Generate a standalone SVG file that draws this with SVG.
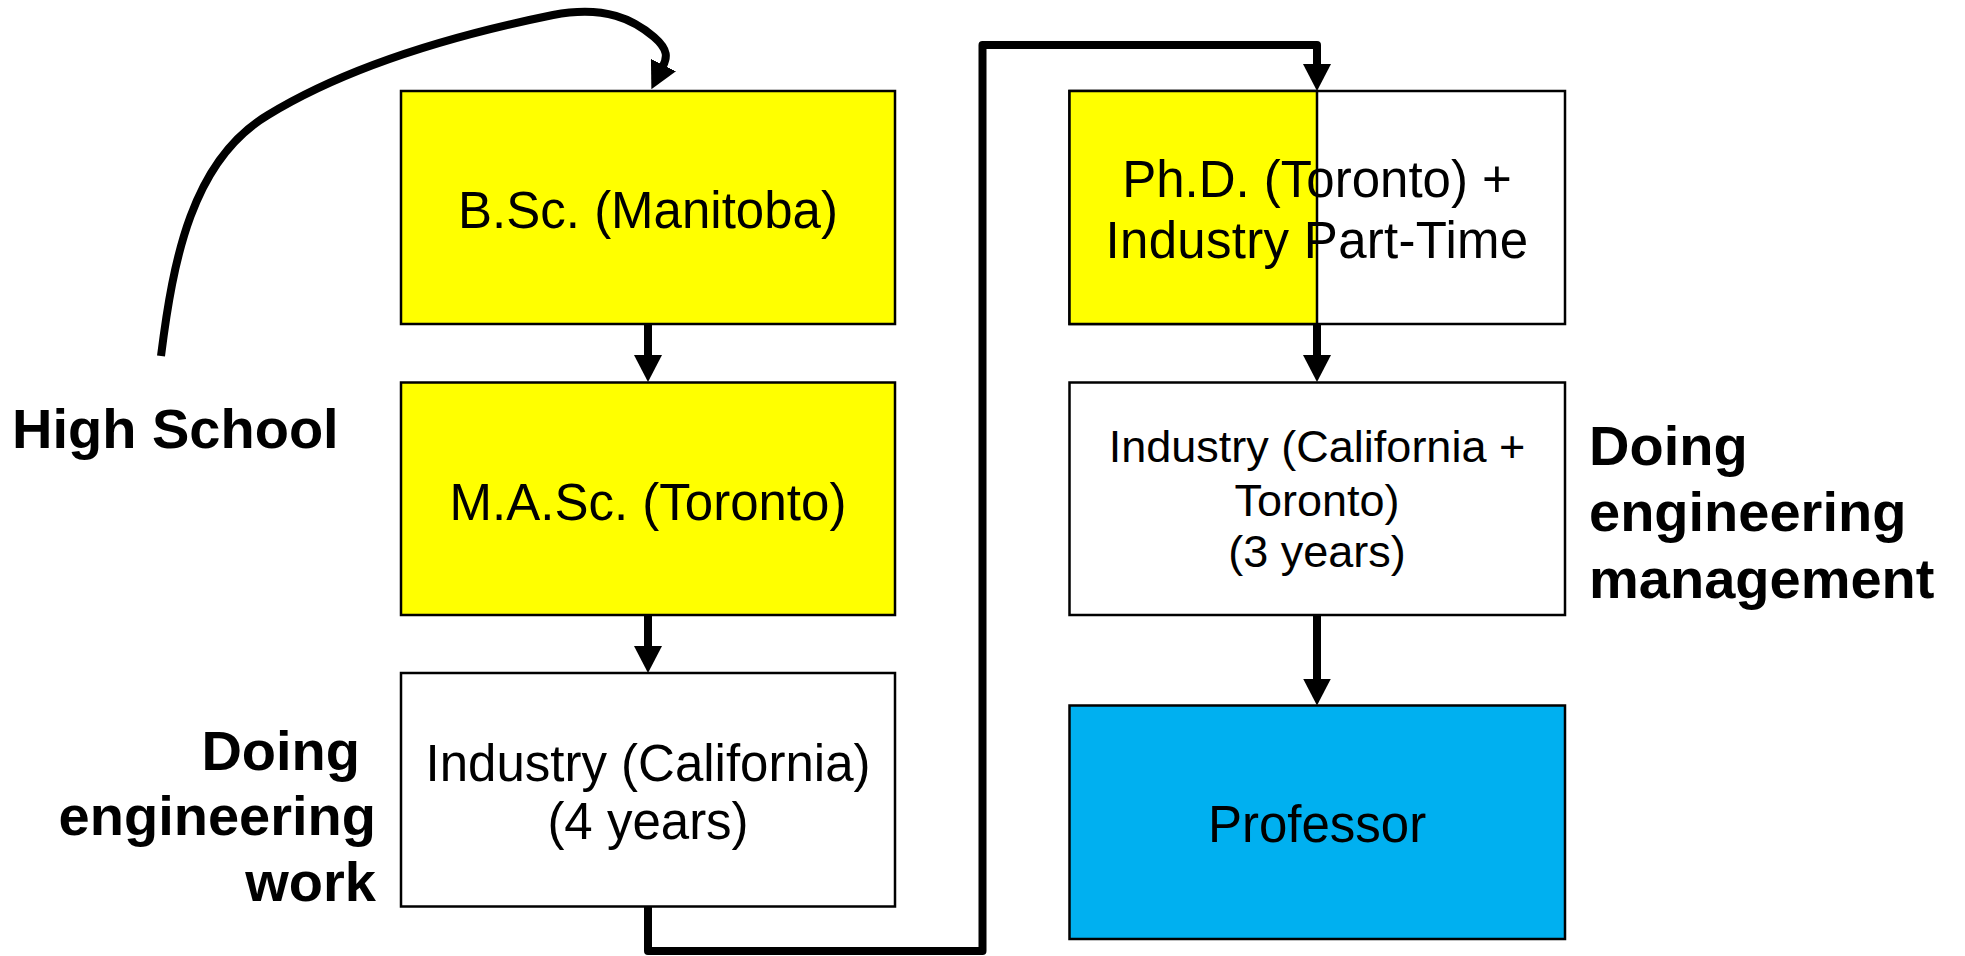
<svg xmlns="http://www.w3.org/2000/svg" width="1965" height="956" viewBox="0 0 1965 956">
<style>
.box{stroke:#000;stroke-width:2.5}
.t{font-family:"Liberation Sans",Arial,sans-serif;font-size:51px;fill:#000;text-anchor:middle}
.lbl{font-family:"Liberation Sans",Arial,sans-serif;font-size:56px;font-weight:bold;fill:#000}
.c{fill:none;stroke:#000;stroke-width:8;stroke-linejoin:round}
</style>
<defs>
<marker id="ah" viewBox="0 0 27 28" refX="1" refY="14" markerWidth="27" markerHeight="28" markerUnits="userSpaceOnUse" orient="auto">
<path d="M0,0 L27,14 L0,28 Z" fill="#000"/>
</marker>
</defs>
<rect width="1965" height="956" fill="#fff"/>

<g id="connectors">
<path class="c" d="M161,356 C173,260 192,160 268,115 C345,68 450,36 553,15 C606,5 634,20 654,37 C669,50 667,58 663,66" marker-end="url(#ah)"/>
<path class="c" d="M648,324 V356" marker-end="url(#ah)"/>
<path class="c" d="M648,615 V647" marker-end="url(#ah)"/>
<path class="c" d="M648,906.5 V951 H982.5 V45 H1317 V65" marker-end="url(#ah)"/>
<path class="c" d="M1317,324 V356" marker-end="url(#ah)"/>
<path class="c" d="M1317,615 V679.5" marker-end="url(#ah)"/>
</g>

<g id="bsc">
<rect class="box" x="401" y="91" width="494" height="233" fill="#FFFF00"/>
<text class="t" x="648" y="228">B.Sc. (Manitoba)</text>
</g>
<g id="masc">
<rect class="box" x="401" y="382.5" width="494" height="232.5" fill="#FFFF00"/>
<text class="t" x="648" y="520">M.A.Sc. (Toronto)</text>
</g>
<g id="industry-ca">
<rect class="box" x="401" y="673" width="494" height="233.5" fill="#fff"/>
<text class="t" x="648" y="781">Industry (California)</text>
<text class="t" x="648" y="839">(4 years)</text>
</g>
<g id="phd">
<rect class="box" x="1069.5" y="91" width="495.5" height="233" fill="#fff"/>
<rect class="box" x="1069.5" y="91" width="247.5" height="233" fill="#FFFF00"/>
<text class="t" x="1317" y="197">Ph.D. (Toronto) +</text>
<text class="t" x="1317" y="258" letter-spacing="0.3">Industry Part-Time</text>
</g>
<g id="industry-ca-to">
<rect class="box" x="1069.5" y="382.5" width="495.5" height="232.5" fill="#fff"/>
<text class="t" x="1317" y="462" style="font-size:45px">Industry (California +</text>
<text class="t" x="1317" y="516" style="font-size:45px">Toronto)</text>
<text class="t" x="1317" y="567" style="font-size:45px">(3 years)</text>
</g>
<g id="professor">
<rect class="box" x="1069.5" y="705.5" width="495.5" height="233.5" fill="#00B0F0"/>
<text class="t" x="1317" y="842">Professor</text>
</g>

<g id="label-highschool">
<text class="lbl" x="12" y="448">High School</text>
</g>
<g id="label-work">
<text class="lbl" text-anchor="end" x="360" y="770">Doing</text>
<text class="lbl" text-anchor="end" x="376" y="835">engineering</text>
<text class="lbl" text-anchor="end" x="376" y="901">work</text>
</g>
<g id="label-management">
<text class="lbl" x="1589" y="465">Doing</text>
<text class="lbl" x="1589" y="531">engineering</text>
<text class="lbl" x="1589" y="598">management</text>
</g>
</svg>
